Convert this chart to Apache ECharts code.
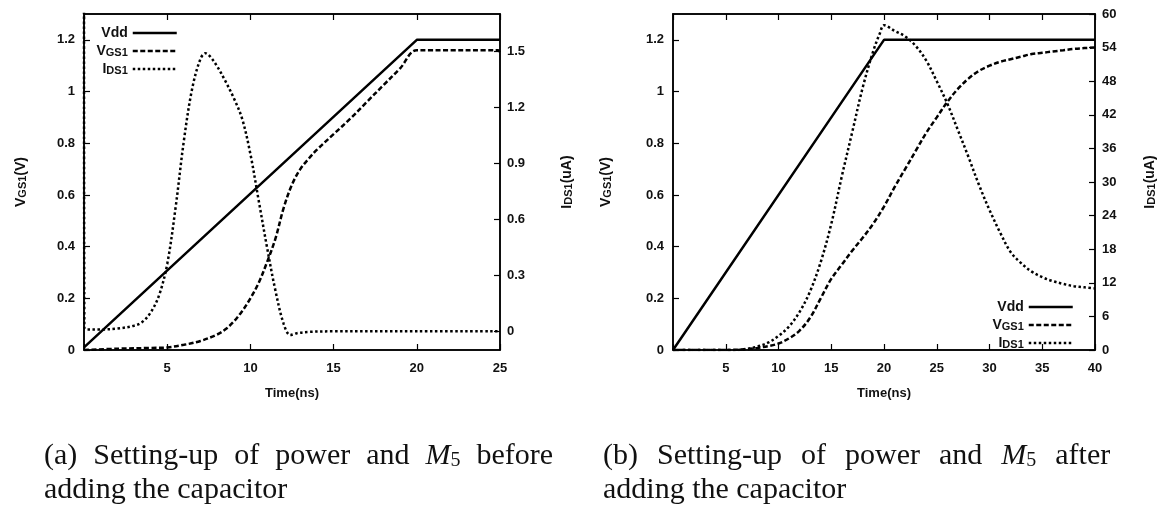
<!DOCTYPE html>
<html>
<head>
<meta charset="utf-8">
<script src="https://cdn.jsdelivr.net/npm/echarts@6/dist/echarts.min.js"></script>
<style>
html, body { margin: 0; padding: 0; background: #fff; }
#chart { width: 1158px; height: 505px; }
</style>
</head>
<body>
<div id="chart"></div>
<script>
// (a) before adding the capacitor, time in ns
const timeVddA = [0, 20, 25];
const vddA = [0.01, 1.2, 1.2];
const timeVgsA = [0, 2, 4, 5, 6, 7, 8, 8.5, 9, 9.5, 10, 10.5, 11, 11.5, 12, 12.5, 13, 13.5, 14, 15, 16, 17, 18, 19, 20, 22, 24, 24.9, 25];
const vgsA = [0, 0.005, 0.008, 0.01, 0.02, 0.035, 0.06, 0.08, 0.11, 0.15, 0.2, 0.26, 0.34, 0.43, 0.55, 0.64, 0.7, 0.74, 0.775, 0.835, 0.895, 0.96, 1.025, 1.09, 1.16, 1.16, 1.16, 1.16, 1.15];
const timeIdsA = [0, 0.02, 0.15, 1, 2, 3, 3.5, 4, 4.5, 5, 5.5, 6, 6.5, 7, 7.3, 7.6, 8, 8.5, 9, 9.5, 10, 10.5, 11, 11.5, 12, 12.4, 12.8, 13.5, 15, 20, 25];
const idsA = [1.9, 0.02, 0.01, 0.01, 0.015, 0.03, 0.05, 0.1, 0.19, 0.36, 0.66, 1.02, 1.3, 1.46, 1.49, 1.47, 1.42, 1.34, 1.25, 1.14, 0.95, 0.7, 0.45, 0.22, 0.04, -0.02, -0.01, -0.003, 0, 0, 0];

// (b) after adding the capacitor
const timeVddB = [0, 20, 40];
const vddB = [0, 1.2, 1.2];
const timeVgsB = [0, 5, 7, 8, 9, 10, 11, 12, 13, 14, 15, 16, 17, 18, 19, 20, 21, 22, 23, 24, 25, 26, 27, 28, 29, 30, 31, 32, 33, 34, 35, 36, 37, 38, 39, 40];
const vgsB = [0, 0, 0.003, 0.008, 0.015, 0.025, 0.045, 0.075, 0.125, 0.2, 0.275, 0.33, 0.385, 0.435, 0.49, 0.555, 0.63, 0.7, 0.77, 0.84, 0.9, 0.96, 1.01, 1.05, 1.08, 1.1, 1.115, 1.125, 1.135, 1.145, 1.15, 1.155, 1.16, 1.165, 1.168, 1.17];
const timeIdsB = [0, 6, 7, 8, 9, 10, 11, 12, 13, 14, 15, 16, 17, 18, 19, 19.6, 20, 21, 22, 23, 24, 25, 26, 27, 28, 29, 30, 31, 32, 33, 34, 35, 36, 37, 38, 39, 40];
const idsB = [0, 0, 0.2, 0.6, 1.3, 2.5, 4.2, 6.8, 10.5, 15.7, 22.5, 31, 39, 47, 53.5, 56.5, 58, 57, 56, 54.3, 51.7, 48, 44, 39.3, 34.5, 29.5, 25, 21, 17.5, 15.5, 14, 13, 12.3, 11.8, 11.4, 11.2, 11];

// tick labels
const timeLabelsA = [5, 10, 15, 20, 25];
const timeLabelsB = [5, 10, 15, 20, 25, 30, 35, 40];
const vgsTicks = [0, 0.2, 0.4, 0.6, 0.8, 1, 1.2];
const idsTicksA = [0, 0.3, 0.6, 0.9, 1.2, 1.5];
const idsTicksB = [0, 6, 12, 18, 24, 30, 36, 42, 48, 54, 60];

const seriesNames = ['Vdd', 'VGS1', 'IDS1'];
const legendLabels = { Vdd: '{n|Vdd}', VGS1: '{n|V}{s|GS1}', IDS1: '{n|I}{s|DS1}' };

// caption words, justified like the LaTeX subcaptions
const captionA = ['(a)', 'Setting-up', 'of', 'power', 'and', 'M5', 'before'];
const captionB = ['(b)', 'Setting-up', 'of', 'power', 'and', 'M5', 'after'];
const captionLine2 = 'adding the capacitor';

function pairs(xs, ys) {
    return xs.map((x, i) => [x, ys[i]]);
}

function captionText(words, gap) {
    const parts = words.map(w => w === 'M5' ? '{m|M}{c|5}' : '{t|' + w + '}');
    return parts.join('{' + gap + '| }') + '\n{t|' + captionLine2 + '}';
}

const font = 'Liberation Sans';
const subRich = {
    n: { fontFamily: font, fontWeight: 'bold', fontSize: 14, lineHeight: 14, verticalAlign: 'top', color: '#111' },
    s: { fontFamily: font, fontWeight: 'bold', fontSize: 11, lineHeight: 10, padding: [8, 0, 0, 0], verticalAlign: 'bottom', color: '#111' }
};
const labelStyle = { fontFamily: font, fontWeight: 'bold', fontSize: 13, color: '#111' };
const lineFrame = { show: true, onZero: false, lineStyle: { color: '#000', width: 1.5 } };

function xAxes(grid, max, labels) {
    const ticks = [0].concat(labels);
    return [{
        type: 'value', gridIndex: grid, min: 0, max: max, position: 'bottom',
        name: 'Time(ns)', nameLocation: 'middle', nameGap: 37,
        nameTextStyle: { fontFamily: font, fontWeight: 'bold', fontSize: 13, color: '#111' },
        axisLine: lineFrame,
        axisTick: { inside: true, length: 6, customValues: ticks, lineStyle: { color: '#000', width: 1.2 } },
        axisLabel: Object.assign({ customValues: labels, margin: 12 }, labelStyle),
        splitLine: { show: false }
    }, {
        type: 'value', gridIndex: grid, min: 0, max: max, position: 'top',
        axisLine: lineFrame,
        axisTick: { inside: true, length: 6, customValues: ticks, lineStyle: { color: '#000', width: 1.2 } },
        axisLabel: { show: false },
        splitLine: { show: false }
    }];
}

function yAxis(grid, pos, min, max, ticks, name, gap) {
    return {
        type: 'value', gridIndex: grid, min: min, max: max, position: pos,
        name: name, nameLocation: 'middle', nameGap: gap, nameRotate: 90,
        nameTextStyle: { rich: subRich },
        axisLine: lineFrame,
        axisTick: { inside: true, length: 6, customValues: ticks, lineStyle: { color: '#000', width: 1.2 } },
        axisLabel: Object.assign({ customValues: ticks, margin: pos === 'left' ? 9 : 7 }, labelStyle),
        splitLine: { show: false }
    };
}

function lineSeries(name, x, y, xi, yi, dash, smooth) {
    return {
        name: name, type: 'line', xAxisIndex: xi, yAxisIndex: yi,
        data: pairs(x, y), symbol: 'none', showSymbol: false, smooth: smooth,
        lineStyle: { color: '#000', width: 2.5, type: dash, cap: 'butt' },
        itemStyle: { color: '#000' },
        animation: false
    };
}

function legend(pos) {
    return Object.assign({
        orient: 'vertical', align: 'right', itemWidth: 44, itemHeight: 14, itemGap: -1,
        data: seriesNames, formatter: n => legendLabels[n],
        itemStyle: { opacity: 0, color: 'rgba(0,0,0,0)', borderWidth: 0 },
        lineStyle: { width: 2.5 },
        textStyle: { rich: subRich }, selectedMode: false
    }, pos);
}

const serif = 'Liberation Serif';
const capRich = {
    t: { fontFamily: serif, fontWeight: 'normal', fontSize: 30, color: '#111', lineHeight: 34 },
    m: { fontFamily: serif, fontWeight: 'normal', fontStyle: 'italic', fontSize: 30, color: '#111', lineHeight: 34 },
    c: { fontFamily: serif, fontWeight: 'normal', fontSize: 20, color: '#111', lineHeight: 24, padding: [10, 0, 0, 0] },
    ga: { fontSize: 30, lineHeight: 34, width: 16 },
    gb: { fontSize: 30, lineHeight: 34, width: 19 }
};

const chart = echarts.init(document.getElementById('chart'));
const option = {
    backgroundColor: '#fff',
    animation: false,
    title: [{
        left: 39, top: 434,
        text: captionText(captionA, 'ga'),
        textStyle: { fontWeight: 'normal', rich: capRich }
    }, {
        left: 598, top: 434,
        text: captionText(captionB, 'gb'),
        textStyle: { fontWeight: 'normal', rich: capRich }
    }],
    grid: [
        { left: 84, right: 658, top: 14, bottom: 155, show: true, borderColor: '#000', borderWidth: 1.5 },
        { left: 673, right: 63, top: 14, bottom: 155, show: true, borderColor: '#000', borderWidth: 1.5 }
    ],
    legend: [
        legend({ right: 975, top: 21 }),
        legend({ right: 79, top: 295 })
    ],
    xAxis: xAxes(0, 25, timeLabelsA).concat(xAxes(1, 40, timeLabelsB)),
    yAxis: [
        yAxis(0, 'left', 0, 1.3, vgsTicks, '{n|V}{s|GS1}{n|(V)}', 56),
        yAxis(0, 'right', -0.1, 1.7, idsTicksA, '{n|I}{s|DS1}{n|(uA)}', 60),
        yAxis(1, 'left', 0, 1.3, vgsTicks, '{n|V}{s|GS1}{n|(V)}', 60),
        yAxis(1, 'right', 0, 60, idsTicksB, '{n|I}{s|DS1}{n|(uA)}', 48)
    ],
    series: [
        lineSeries('Vdd', timeVddA, vddA, 0, 0, 'solid', false),
        lineSeries('VGS1', timeVgsA, vgsA, 0, 0, [5, 2.5], 0.35),
        lineSeries('IDS1', timeIdsA, idsA, 0, 1, [2.5, 2.5], 0.35),
        lineSeries('Vdd', timeVddB, vddB, 2, 2, 'solid', false),
        lineSeries('VGS1', timeVgsB, vgsB, 2, 2, [5, 2.5], 0.35),
        lineSeries('IDS1', timeIdsB, idsB, 2, 3, [2.5, 2.5], 0.35)
    ]
};
chart.setOption(option);
</script>
</body>
</html>
